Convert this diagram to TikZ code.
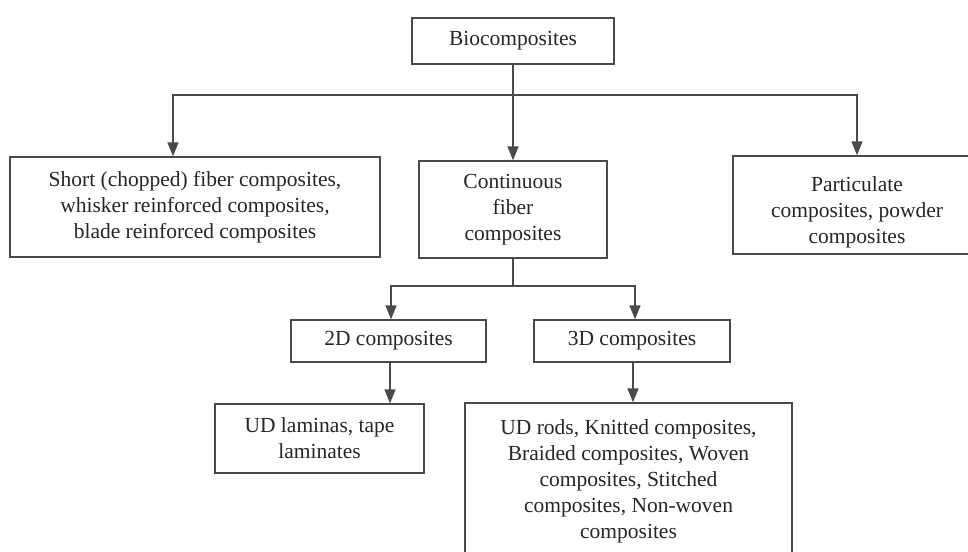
\documentclass[tikz,border=0pt]{standalone}
\usepackage{fontspec}
\setmainfont{Liberation Serif}
\usetikzlibrary{arrows.meta}
\definecolor{linec}{HTML}{4A4A4A}
\definecolor{textc}{HTML}{262626}
\tikzset{
  box/.style={draw=linec, line width=1.4pt, rectangle, inner sep=0pt, align=center,
    text=textc, font=\fontsize{21.5}{26}\selectfont},
  conn/.style={draw=linec, line width=1.4pt},
  arr/.style={conn, -{Triangle[width=11pt,length=14pt]}}
}
\begin{document}
\begin{tikzpicture}[x=1pt,y=-1pt]
\useasboundingbox[fill=white] (0,0) rectangle (968,551);
\node[box, minimum width=202pt, minimum height=46pt] (bio) at (513,41) {Biocomposites};
\node[box, minimum width=370pt, minimum height=100pt] (short) at (195,207)
  {Short (chopped) fiber composites,\\ whisker reinforced composites,\\ blade reinforced composites};
\node[box, minimum width=188pt, minimum height=97pt] (cont) at (513,209.5)
  {Continuous\\ fiber\\ composites};
\node[box, minimum width=248pt, minimum height=98pt] (part) at (857,205)
  {\strut\\[-14pt]Particulate\\ composites, powder\\ composites};
\node[box, minimum width=195pt, minimum height=42pt] (d2) at (388.5,341) {2D composites};
\node[box, minimum width=196pt, minimum height=42pt] (d3) at (632,341) {3D composites};
\node[box, minimum width=209pt, minimum height=69pt] (ud) at (319.5,438.5)
  {UD laminas, tape\\ laminates};
\node[box, minimum width=327pt, minimum height=157pt] (big) at (628.5,481.5)
  {UD rods, Knitted composites,\\ Braided composites, Woven\\ composites, Stitched\\ composites, Non-woven\\ composites};
\coordinate (j1) at (513,95);
\coordinate (j2) at (513,286);
\draw[arr] (bio.south) -- (cont.north);
\draw[arr] (j1) -| ([xshift=-22pt]short.north);
\draw[arr] (j1) -| (part.north);
\draw[conn] (cont.south) -- (j2);
\draw[arr] (j2) -| ([xshift=2.5pt]d2.north);
\draw[arr] (j2) -| ([xshift=3pt]d3.north);
\draw[arr] ([xshift=1.5pt]d2.south) -- ([xshift=1.5pt]d2.south |- ud.north);
\draw[arr] ([xshift=1pt]d3.south) -- ([xshift=1pt]d3.south |- big.north);
\end{tikzpicture}
\end{document}
